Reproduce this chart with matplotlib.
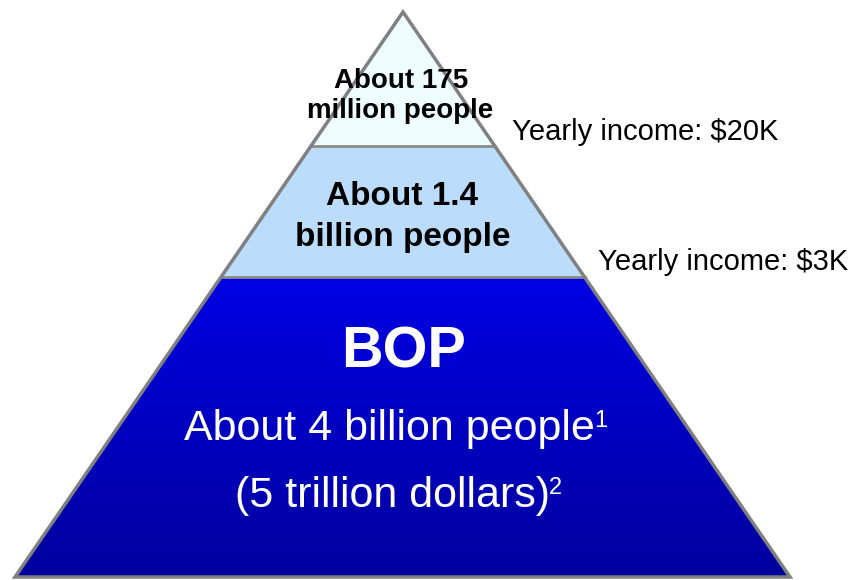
import numpy as np
import matplotlib.pyplot as plt
from matplotlib.patches import Polygon
from matplotlib.colors import LinearSegmentedColormap

plt.rcParams['font.family'] = ['Liberation Sans', 'DejaVu Sans']

# pyramid tiers, top to bottom
top_lines = ["About 175", "million people"]
mid_lines = ["About 1.4", "billion people"]
bop_title = "BOP"
bop_lines = ["About 4 billion people", "(5 trillion dollars)"]
bop_notes = ["1", "2"]
tier_colors = ["#EEFEFF", "#BBDDFB", None]  # bottom tier uses a gradient
incomes = ["Yearly income: $20K", "Yearly income: $3K"]

# geometry in pixel space
W, H = 854, 580
apex = (403, 12)
base_y = 577
base_left, base_right = 15, 790
cuts = [12, 146, 277, 577]


def edge_x(y):
    t = (y - apex[1]) / (base_y - apex[1])
    return apex[0] + (base_left - apex[0]) * t, apex[0] + (base_right - apex[0]) * t


fig = plt.figure(figsize=(W / 100, H / 100), dpi=100)
ax = fig.add_axes([0, 0, 1, 1])
ax.set_xlim(0, W)
ax.set_ylim(H, 0)
ax.axis('off')

for i in range(3):
    y0, y1 = cuts[i], cuts[i + 1]
    l0, r0 = edge_x(y0)
    l1, r1 = edge_x(y1)
    pts = [(l0, y0), (r0, y0), (r1, y1), (l1, y1)]
    if tier_colors[i] is not None:
        ax.add_patch(Polygon(pts, closed=True, facecolor=tier_colors[i],
                             edgecolor='none', zorder=1))
    else:
        poly = Polygon(pts, closed=True, facecolor='none', edgecolor='none')
        ax.add_patch(poly)
        cmap = LinearSegmentedColormap.from_list('bop', ['#0000E4', '#00009E'])
        grad = np.linspace(0, 1, 256).reshape(-1, 1)
        im = ax.imshow(grad, cmap=cmap, extent=(l1, r1, y1, y0),
                       aspect='auto', zorder=1)
        im.set_clip_path(poly)

# divider lines
for y in cuts[1:3]:
    l, r = edge_x(y)
    ax.plot([l, r], [y, y], color='#8A8A8A', lw=2, zorder=2)

# outline
ax.add_patch(Polygon([apex, (base_right, base_y), (base_left, base_y)], closed=True,
                     facecolor='none', edgecolor='#808080', lw=2.5, zorder=3,
                     joinstyle='miter'))

# tier labels
ax.text(401, 88, top_lines[0], ha='center', va='baseline', fontsize=20,
        fontweight='bold', zorder=4)
ax.text(400, 118, top_lines[1], ha='center', va='baseline', fontsize=20,
        fontweight='bold', zorder=4)
ax.text(402, 205, mid_lines[0], ha='center', va='baseline', fontsize=24,
        fontweight='bold', zorder=4)
ax.text(403, 246, mid_lines[1], ha='center', va='baseline', fontsize=24,
        fontweight='bold', zorder=4)
ax.text(404, 367, bop_title, ha='center', va='baseline', fontsize=41.5,
        fontweight='bold', color='white', zorder=4)

# BOP detail lines with superscript notes
line_pos = [(184, 440), (235, 507)]
for txt, note, (x, y) in zip(bop_lines, bop_notes, line_pos):
    t = ax.text(x, y, txt, ha='left', va='baseline', fontsize=31,
                color='white', zorder=4)
    fig.canvas.draw()
    bb = t.get_window_extent().transformed(ax.transData.inverted())
    ax.text(bb.x1 - 1, y - 13, note, ha='left', va='baseline', fontsize=17,
            color='white', zorder=4)

# income labels
ax.text(512, 140, incomes[0], ha='left', va='baseline', fontsize=21)
ax.text(598, 270, incomes[1], ha='left', va='baseline', fontsize=21)

fig.savefig('out.png', dpi=100)
plt.close(fig)
